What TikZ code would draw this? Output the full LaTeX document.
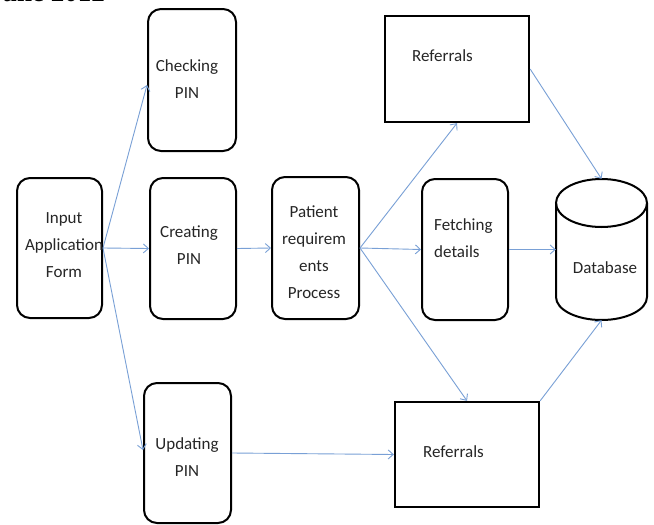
\documentclass[tikz,border=0pt]{standalone}
\usepackage{fontspec}
\setmainfont{Carlito}
\newfontfamily\datefont{Liberation Serif}
\usetikzlibrary{arrows.meta}
\definecolor{arrowblue}{RGB}{121,160,214}
\begin{document}
\begin{tikzpicture}[x=1pt,y=-1pt,
  rbox/.style={draw=black, line width=2pt, rounded corners=13pt, inner sep=0pt},
  sbox/.style={draw=black, line width=2.3pt, inner sep=0pt},
  lbl/.style={align=center, font=\fontsize{17}{27}\selectfont, inner sep=0pt, text=black!85},
  conn/.style={draw=arrowblue, line width=0.9pt, -{Straight Barb[length=5pt,width=9pt]}}
]
\useasboundingbox (0,0) rectangle (654,525);
\fill[white] (0,0) rectangle (654,525);

% partially visible header text (cut by the top edge)
\node[anchor=base east, inner sep=0pt, font=\datefont\bfseries\fontsize{27}{30}\selectfont] (date) at (105,1.8) {June 2012};

% boxes
\node[rbox, minimum width=85pt, minimum height=140pt] (inp) at (59.5,248) {};
\node[rbox, minimum width=88pt, minimum height=142pt] (chk) at (192,80) {};
\node[rbox, minimum width=86pt, minimum height=141pt] (cre) at (193,248.5) {};
\node[rbox, minimum width=87pt, minimum height=140pt] (upd) at (187.5,453) {};
\node[rbox, minimum width=87pt, minimum height=142pt] (pat) at (315.5,248) {};
\node[rbox, minimum width=86pt, minimum height=141pt] (fet) at (465,249.5) {};
\node[sbox, minimum width=144pt, minimum height=106pt] (ref1) at (457,69) {};
\node[sbox, minimum width=144pt, minimum height=105pt] (ref2) at (467,454.5) {};
\node[inner sep=0pt, minimum width=91pt, minimum height=141pt] (db) at (601.5,249.5) {};

% database cylinder
\draw[line width=2pt] (601.5,203) ellipse [x radius=45.5pt, y radius=24pt];
\draw[line width=2pt] (556,203) -- (556,297)
  arc[start angle=180, end angle=360, x radius=45.5pt, y radius=23pt] -- (647,203);

% labels
\node[lbl] (tinp) at (64,245) {Input\\Application\\Form};
\node[lbl] (tchk) at (187,79) {Checking\\PIN};
\node[lbl] (tcre) at (189,245.5) {Creating\\PIN};
\node[lbl] (tupd) at (187,457) {Updating\\PIN};
\node[lbl] (tpat) at (314,252) {Patient\\requirem\\ents\\Process};
\node[lbl, anchor=west, align=left] (tfet) at (434,238) {Fetching\\details};
\node[lbl, anchor=west] (tref1) at (412,56) {Referrals};
\node[lbl, anchor=west] (tref2) at (423,452) {Referrals};
\node[lbl] (tdb) at (605,268) {Database};

% connectors
\draw[conn] (inp.east) -- ([yshift=-5pt]chk.west);
\draw[conn] (inp.east) -- (cre.west);
\draw[conn] (inp.east) -- ([yshift=3pt]upd.west);
\draw[conn] (cre.east) -- (pat.west);
\draw[conn] (pat.east) -- (ref1.south);
\draw[conn] (pat.east) -- (fet.west);
\draw[conn] (pat.east) -- (ref2.north);
\draw[conn] (upd.east) -- (ref2.west);
\draw[conn] (ref1.east) -- (db.north);
\draw[conn] (fet.east) -- (db.west);
\draw[conn] (ref2.north east) -- (db.south);
\end{tikzpicture}
\end{document}
